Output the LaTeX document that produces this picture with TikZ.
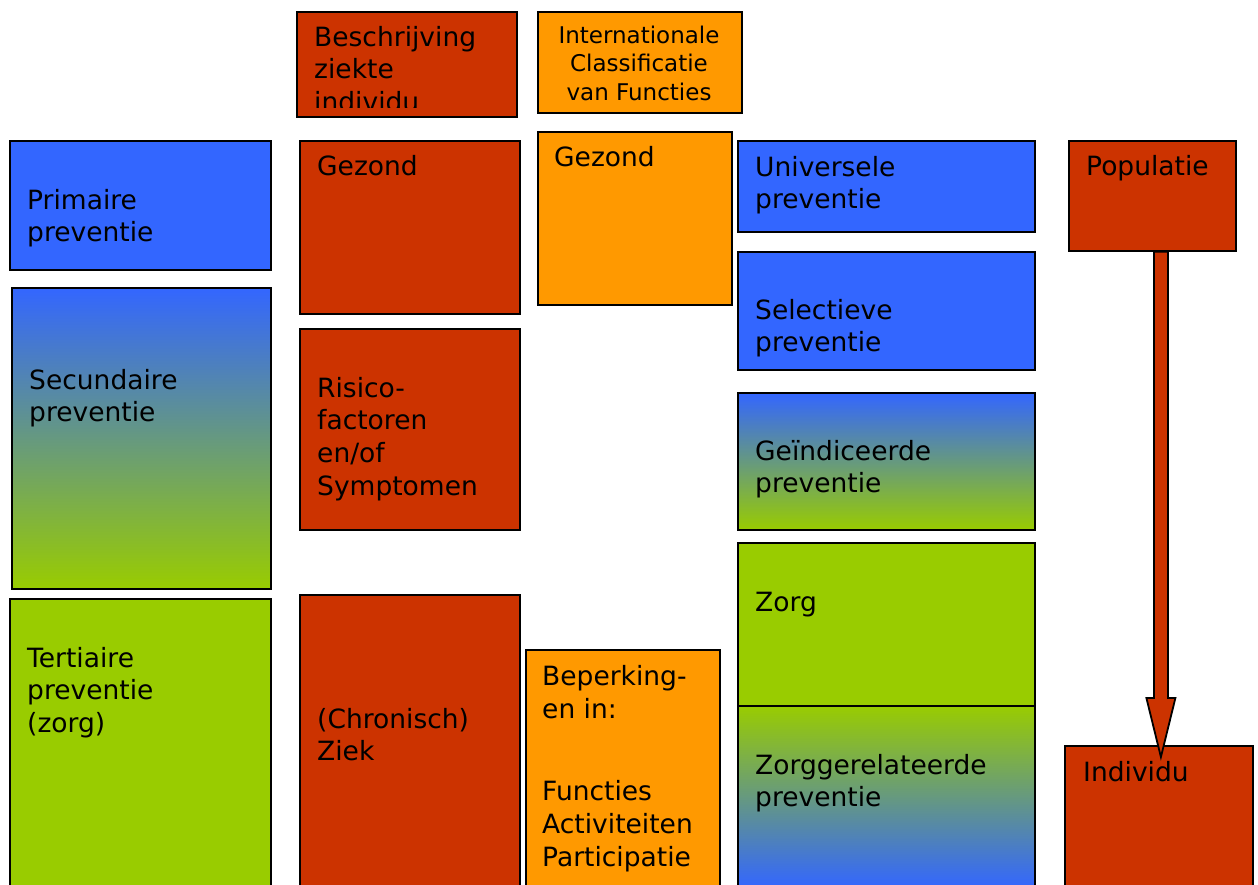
\documentclass[tikz,border=0pt]{standalone}
\usepackage{fontspec}
\setmainfont{DejaVu Sans}
\usetikzlibrary{calc}

\definecolor{ziekrood}{HTML}{CC3300}
\definecolor{icforanje}{HTML}{FF9900}
\definecolor{prevblauw}{HTML}{3366FF}
\definecolor{zorggroen}{HTML}{99CC00}

\begin{document}
\begin{tikzpicture}[x=1pt,y=-1pt,
  box/.style   ={draw=black,line width=1.8pt,rectangle,inner sep=0pt,anchor=north west},
  rood/.style  ={box,fill=ziekrood},
  oranje/.style={box,fill=icforanje},
  blauw/.style ={box,fill=prevblauw},
  groen/.style ={box,fill=zorggroen},
  blauwgroen/.style={box,top color=prevblauw,bottom color=zorggroen},
  groenblauw/.style={box,top color=zorggroen,bottom color=prevblauw},
  % anchor = baseline of the last line
  tekst/.style ={anchor=base west,align=left,inner sep=0pt,font=\fontsize{26.5}{32.8}\selectfont},
  klein/.style ={anchor=base,align=center,inner sep=0pt,font=\fontsize{23}{28.5}\selectfont},
  pijl/.style  ={draw=black,line width=1.8pt,fill=ziekrood,line join=miter}
]
  % ----- page frame -----
  \clip (0,0) rectangle (1258,884);

  % ----- column 1: preventie -----
  \node[blauw,minimum width=261,minimum height=129] (prim) at (9,140) {};
  \node[blauwgroen,minimum width=259,minimum height=301] (sec) at (11,287) {};
  \node[groen,minimum width=261,minimum height=300] (tert) at (9,598) {};
  \node[tekst] (prim-t) at (27,241.8) {Primaire\\preventie};
  \node[tekst] (sec-t)  at (29,421.8) {Secundaire\\preventie};
  \node[tekst] (tert-t) at (27,732.6) {Tertiaire\\preventie\\(zorg)};

  % ----- column 2: ziekte -----
  \node[rood,minimum width=220,minimum height=105] (beschr) at (296,11) {};
  \begin{scope}
    \clip (296,11) rectangle (516,107);
    \node[tekst] (beschr-t) at (314,111.6) {Beschrijving\\ziekte\\individu};
  \end{scope}
  \node[rood,minimum width=220,minimum height=173] (gezR) at (299,140) {};
  \node[rood,minimum width=220,minimum height=201] (risico) at (299,328) {};
  \node[rood,minimum width=220,minimum height=300] (ziek) at (299,594) {};
  \node[tekst] (gezR-t)   at (317,175) {Gezond};
  \node[tekst] (risico-t) at (317,495.4) {Risico-\\factoren\\en/of\\Symptomen};
  \node[tekst] (ziek-t)   at (317,760.8) {(Chronisch)\\Ziek};

  % ----- column 3: ICF -----
  \node[oranje,minimum width=204,minimum height=101] (icf) at (537,11) {};
  \node[klein] (icf-t) at (639,100) {Internationale\\Classificatie\\van Functies};
  \node[oranje,minimum width=194,minimum height=173] (gezO) at (537,131) {};
  \node[oranje,minimum width=194,minimum height=250] (beperk) at (525,649) {};
  \node[tekst] (gezO-t)   at (554,166) {Gezond};
  \node[tekst] (beperk-t) at (542,866) {Beperking-\\en in:\\[49pt]Functies\\Activiteiten\\Participatie};

  % ----- column 4: doelgroep -----
  \node[blauw,minimum width=297,minimum height=91]  (univ) at (737,140) {};
  \node[blauw,minimum width=297,minimum height=118] (selec) at (737,251) {};
  \node[blauwgroen,minimum width=297,minimum height=137] (geind) at (737,392) {};
  \node[groen,minimum width=297,minimum height=163] (zorg) at (737,542) {};
  \node[groenblauw,minimum width=297,minimum height=182] (zorgrel) at (737,705) {};
  \node[tekst] (univ-t)    at (755,208.8) {Universele\\preventie};
  \node[tekst] (selec-t)   at (755,351.8) {Selectieve\\preventie};
  \node[tekst] (geind-t)   at (755,492.8) {Geïndiceerde\\preventie};
  \node[tekst] (zorg-t)    at (755,611) {Zorg};
  \node[tekst] (zorgrel-t) at (755,806.8) {Zorggerelateerde\\preventie};

  % ----- column 5: populatie -> individu -----
  \node[rood,minimum width=167,minimum height=110] (pop) at (1068,140) {};
  \node[rood,minimum width=188,minimum height=150] (indiv) at (1064,745) {};
  \node[tekst] (pop-t)   at (1086,175) {Populatie};
  \node[tekst] (indiv-t) at (1083,781) {Individu};

  \coordinate (pijl-top) at ([xshift=8.5pt]pop.south);
  \coordinate (pijl-tip) at ([yshift=-12pt]indiv.north -| pijl-top);
  \draw[pijl] ([xshift=-7pt]pijl-top) -- ([xshift=-7pt,yshift=59pt]pijl-tip)
    -- ([xshift=-14.5pt,yshift=59pt]pijl-tip) -- (pijl-tip)
    -- ([xshift=14.5pt,yshift=59pt]pijl-tip) -- ([xshift=7pt,yshift=59pt]pijl-tip)
    -- ([xshift=7pt]pijl-top) -- cycle;
\end{tikzpicture}
\end{document}
